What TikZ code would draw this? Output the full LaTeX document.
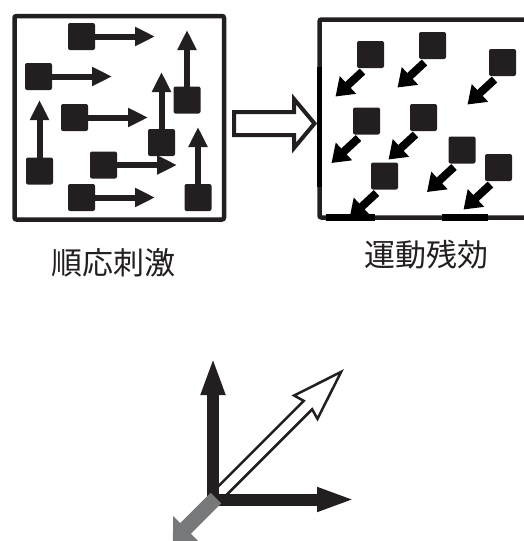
\documentclass[tikz,border=0pt]{standalone}
\usepackage{fontspec}
\newfontfamily\cjk{Noto Sans CJK JP}
\usetikzlibrary{arrows.meta}
\definecolor{ink}{HTML}{231F20}
\definecolor{arrgray}{HTML}{76787A}
\begin{document}
\begin{tikzpicture}[x=1pt,y=-1pt,
  sq/.style={rectangle, fill=ink, rounded corners=2pt, minimum size=27pt, inner sep=0pt},
  frame/.style={draw=ink, line width=4.5pt, rounded corners=2pt},
  larr/.style={draw=ink, line width=6pt, -{Triangle[length=20pt,width=18pt]}},
  rarr/.style={draw=black, line width=8pt, -{Triangle[length=17pt,width=23pt]}},
  barr/.style={draw=ink, line width=12pt, -{Triangle[length=38pt,width=22pt]}},
  hollow/.style={draw=ink, fill=white, line join=miter},
  lbl/.style={font=\cjk\fontsize{31pt}{31pt}\selectfont, text=ink, inner sep=0pt}
]
\useasboundingbox (0,0) rectangle (523,541);

% left box
\draw[frame] (14.5,16) rectangle (224,219.5);
\coordinate (L1c) at (81.5,36.5);
\coordinate (L2c) at (38.5,76.5);
\coordinate (L3c) at (74.5,117.5);
\coordinate (L4c) at (39.5,171);
\coordinate (L5c) at (161.5,142.5);
\coordinate (L6c) at (187,100);
\coordinate (L7c) at (103.5,165);
\coordinate (L8c) at (81.5,197.5);
\coordinate (L9c) at (198,197.5);
\draw[larr] (L1c) -- ++(73.5,0);
\draw[larr] (L2c) -- ++(73.5,0);
\draw[larr] (L3c) -- ++(73.5,0);
\draw[larr] (L4c) -- ++(0,-71);
\draw[larr] (L5c) -- ++(0,-70.5);
\draw[larr] (L6c) -- ++(0,-70);
\draw[larr] (L7c) -- ++(73.5,0);
\draw[larr] (L8c) -- ++(73.5,0);
\draw[larr] (L9c) -- ++(0,-70.5);
\foreach \i in {1,...,9} { \node[sq] (L\i) at (L\i c) {}; }

% hollow arrow between boxes
\draw[hollow, line width=4pt] (234,112) -- (294,112) -- (294,99) -- (314.5,123.5)
  -- (294,148) -- (294,135) -- (234,135) -- cycle;

% right box
\draw[frame] (530,19.5) -- (319.5,19.5) -- (319.5,217.5) -- (530,217.5);
\draw[black, line width=5.5pt] (319.5,67) -- (319.5,187);
\draw[black, line width=7pt] (326,217) -- (375,217);
\draw[black, line width=7pt] (442,217) -- (488,217);
\coordinate (Ra) at (370.5,54.5);
\coordinate (Rb) at (432.5,45.5);
\coordinate (Rc) at (502.5,62.5);
\coordinate (Rd) at (366.5,121);
\coordinate (Re) at (423.5,117.5);
\coordinate (Rf) at (462,150);
\coordinate (Rg) at (384.5,176);
\coordinate (Rh) at (498.5,167.5);
\foreach \k in {a,b,c,d,e,f,g,h} { \node[sq] (S\k) at (R\k) {}; }
\foreach \k in {a,b,c,d,e,f,g,h} {
  \draw[rarr] ([shift={(-8,17)}]S\k.center) -- ([shift={(-35,42)}]S\k.center);
}

% labels
\node[lbl] (t1) at (113.5,262.5) {順応刺激};
\node[lbl] (t2) at (426,255) {運動残効};

% bottom vector diagram
\begin{scope}[shift={(216,497)}, rotate=45]
  \draw[hollow, line width=2.5pt] (0,-6) -- (130,-6) -- (127,-16.5) -- (177,0)
    -- (127,16.5) -- (130,6) -- (0,6) -- cycle;
\end{scope}
\coordinate (O) at (213,499.5);
\draw[barr] (207,499.5) -- (355,499.5);
\draw[barr] (213,505.5) -- (213,357);
\begin{scope}[shift={(216,498)}, rotate=225]
  \fill[arrgray] (0,-7.5) -- (43,-7.5) -- (43,-17.5) -- (61,0) -- (43,17.5)
    -- (43,7.5) -- (0,7.5) -- cycle;
\end{scope}
\end{tikzpicture}
\end{document}
